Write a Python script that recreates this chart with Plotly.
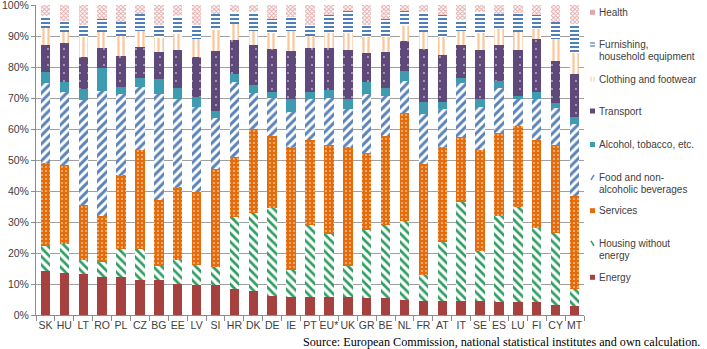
import plotly.graph_objects as go

countries = ["SK","HU","LT","RO","PL","CZ","BG","EE","LV","SI","HR","DK","DE","IE","PT",
             "EU*","UK","GR","BE","NL","FR","AT","IT","SE","ES","LU","FI","CY","MT"]

energy      = [14.3,13.6,13.3,12.3,12.1,11.4,11.2, 9.9, 9.8, 9.8, 8.5, 7.6, 6.2, 5.7, 5.7, 5.7, 5.7, 5.4, 5.4, 4.9, 4.6, 4.4, 4.6, 4.4, 4.1, 4.1, 4.1, 3.3, 2.8]
housing     = [ 8.0, 9.3, 4.5, 4.7, 9.1,10.0, 4.7, 8.0, 6.2, 5.7,23.0,25.2,28.2, 8.7,23.3,20.5,10.0,21.9,23.7,25.5, 8.4,19.1,32.0,16.4,27.9,30.9,23.9,23.1, 5.6]
services    = [26.8,25.6,17.8,15.0,24.0,31.8,21.1,23.5,23.6,31.7,19.4,27.3,23.5,39.8,27.3,28.8,38.4,25.1,28.8,34.9,35.6,30.7,20.7,32.5,26.6,26.0,28.6,28.3,30.1]
food        = [25.8,23.4,33.6,40.2,26.0,20.3,34.2,28.4,27.5,16.5,24.3,11.6,12.2,11.4,13.5,14.9,12.5,18.8,12.7,10.2,16.1,12.1,17.4,13.9,14.7, 8.6,13.2,12.2,23.0]
alcohol     = [ 3.4, 3.2, 3.8, 7.5, 2.4, 2.8, 4.8, 3.3, 3.2, 2.1, 2.7, 2.4, 1.8, 4.0, 2.1, 2.6, 3.0, 3.9, 2.7, 3.2, 4.0, 2.4, 1.8, 2.6, 2.2, 1.2, 2.1, 1.4, 2.5]
transport   = [ 8.7,12.6,10.1, 6.3,10.1,10.3, 8.8,12.5,13.0,19.3,10.7,13.1,14.0,15.5,14.1,13.5,16.0, 9.5,11.5, 9.6,17.2,15.1,10.5,15.8,11.5,14.8,17.0,13.6,13.6]
clothing    = [ 5.5, 3.7, 6.7, 5.3, 6.3, 4.9, 4.5, 5.2, 5.6, 6.9, 5.2, 4.5, 5.1, 6.5, 4.0, 5.0, 5.4, 5.1, 5.0, 4.8, 5.3, 5.9, 4.5, 5.4, 5.3, 5.6, 3.2, 7.0, 6.8]
furnishing  = [ 4.0, 3.6, 3.7, 4.1, 4.6, 5.7, 4.3, 5.7, 4.7, 5.2, 3.8, 5.9, 4.5, 4.5, 3.7, 5.7, 7.1, 4.0, 5.6, 4.9, 6.4, 7.2, 3.8, 6.7, 4.9, 6.3, 4.7, 5.5, 9.4]
health      = [ 3.5, 5.0, 6.5, 4.6, 5.4, 2.8, 6.4, 3.5, 6.4, 2.8, 2.4, 2.4, 4.5, 3.9, 6.3, 3.3, 1.9, 6.3, 4.6, 2.0, 2.4, 3.1, 4.7, 2.3, 2.8, 2.5, 3.2, 5.6, 6.2]

y_ticks = [0,10,20,30,40,50,60,70,80,90,100]
y_tick_labels = [f"{v}%" for v in y_ticks]

legend_names = ["Health", "Furnishing,|household equipment", "Clothing and footwear", "Transport",
                "Alcohol, tobacco, etc.", "Food and non-|alcoholic beverages", "Services",
                "Housing without|energy", "Energy"]

series = [
    ("Energy", energy, dict(color="#a5413e")),
    ("Housing without energy", housing, dict(color="#2f9e62", pattern=dict(shape="\\", fgcolor="#2f9e62", bgcolor="white", size=6, solidity=0.45, fillmode="replace"))),
    ("Services", services, dict(color="#e46c0a", pattern=dict(shape=".", fgcolor="white", bgcolor="#e46c0a", size=4, solidity=0.12, fillmode="replace"))),
    ("Food and non-alcoholic beverages", food, dict(color="#4f81bd", pattern=dict(shape="/", fgcolor="#5a83b8", bgcolor="white", size=6, solidity=0.5, fillmode="replace"))),
    ("Alcohol, tobacco, etc.", alcohol, dict(color="#3f9bb0")),
    ("Transport", transport, dict(color="#5f497a", pattern=dict(shape=".", fgcolor="white", bgcolor="#5f497a", size=8, solidity=0.03, fillmode="replace"))),
    ("Clothing and footwear", clothing, dict(color="#f9c89c", pattern=dict(shape="|", fgcolor="#f9c89c", bgcolor="white", size=5, solidity=0.45, fillmode="replace"))),
    ("Furnishing, household equipment", furnishing, dict(color="#4f81bd", pattern=dict(shape="-", fgcolor="#4f7fb8", bgcolor="white", size=4, solidity=0.5, fillmode="replace"))),
    ("Health", health, dict(color="#e0a8a8", pattern=dict(shape="x", fgcolor="#e3a7a7", bgcolor="white", size=3, solidity=0.5, fillmode="replace"))),
]

fig = go.Figure()
for name, vals, marker in series:
    m = dict(marker)
    m["line"] = dict(width=0)
    fig.add_trace(go.Bar(x=countries, y=vals, name=name, marker=m, showlegend=False))

W, H = 707, 349
L, R, T, B = 36, 123, 5, 34
pw = W - L - R
ph = H - T - B

def px2x(px):
    return (px - L) / pw

def px2y(py):
    return (H - B - py) / ph

font_family = "Liberation Sans, Arial, sans-serif"
annotations = []
shapes = []

legend_items = [
    (legend_names[0], 12.3, "check", "#e3a7a7"),
    (legend_names[1], 44.5, "hlines", "#4f7fb8"),
    (legend_names[2], 79.0, "vlines", "#f9c89c"),
    (legend_names[3], 111.0, "rect", "#5f497a"),
    (legend_names[4], 144.5, "rect", "#3f9bb0"),
    (legend_names[5], 177.3, "slash", "#5a83b8"),
    (legend_names[6], 210.7, "rect", "#e46c0a"),
    (legend_names[7], 243.3, "bslash", "#2f9e62"),
    (legend_names[8], 277.3, "rect", "#a5413e"),
]
text_x = 597
for label, y0, kind, col in legend_items:
    lines = label.split("|")
    for i, ln in enumerate(lines):
        annotations.append(dict(x=px2x(text_x), y=px2y(y0 + i * 12.3), xref="paper", yref="paper",
                                text=ln, showarrow=False, xanchor="left", yanchor="middle",
                                font=dict(family=font_family, size=10, color="#404040")))
    mx0, mx1 = 590, 595
    my0, my1 = y0 - 2.5, y0 + 2.5
    if kind == "rect" or kind == "check":
        shapes.append(dict(type="rect", xref="paper", yref="paper",
                           x0=px2x(mx0), x1=px2x(mx1), y0=px2y(my1), y1=px2y(my0),
                           fillcolor=col, line=dict(width=0)))
    elif kind == "hlines":
        for yy in (y0 - 1.5, y0 + 1.5):
            shapes.append(dict(type="line", xref="paper", yref="paper",
                               x0=px2x(mx0), x1=px2x(mx1), y0=px2y(yy), y1=px2y(yy),
                               line=dict(color=col, width=1.2)))
    elif kind == "vlines":
        for xx in (mx0 + 1, mx0 + 4):
            shapes.append(dict(type="line", xref="paper", yref="paper",
                               x0=px2x(xx), x1=px2x(xx), y0=px2y(my0), y1=px2y(my1),
                               line=dict(color=col, width=1)))
    elif kind == "slash":
        shapes.append(dict(type="line", xref="paper", yref="paper",
                           x0=px2x(mx0 + 1), x1=px2x(mx1 - 1), y0=px2y(my1), y1=px2y(my0),
                           line=dict(color=col, width=1.4)))
    elif kind == "bslash":
        shapes.append(dict(type="line", xref="paper", yref="paper",
                           x0=px2x(mx0 + 1), x1=px2x(mx1 - 1), y0=px2y(my0), y1=px2y(my1),
                           line=dict(color=col, width=1.6)))

annotations.append(dict(x=px2x(702), y=px2y(341.5), xref="paper", yref="paper",
                        text="Source: European Commission, national statistical institutes and own calculation.",
                        showarrow=False, xanchor="right", yanchor="middle",
                        font=dict(family="Liberation Serif, Times New Roman, serif", size=12.2, color="black")))

fig.update_layout(
    width=W, height=H,
    margin=dict(l=L, r=R, t=T, b=B, pad=0, autoexpand=False),
    barmode="stack",
    bargap=0.5,
    plot_bgcolor="white",
    paper_bgcolor="white",
    font=dict(family=font_family, size=11, color="#404040"),
    annotations=annotations,
    shapes=shapes,
    showlegend=False,
)
fig.update_xaxes(type="category", showline=True, linecolor="#8c8c8c", linewidth=1,
                 ticks="outside", tickson="boundaries", ticklen=5, tickcolor="#8c8c8c",
                 tickangle=0, ticklabeloverflow="allow", automargin=False,
                 tickfont=dict(size=10.5, color="#404040"), showgrid=False)
fig.update_yaxes(range=[0, 100], tickvals=y_ticks, ticktext=y_tick_labels,
                 showline=True, linecolor="#8c8c8c", linewidth=1,
                 ticks="outside", ticklen=4, tickcolor="#8c8c8c", ticklabeloverflow="allow",
                 automargin=False,
                 showgrid=True, gridcolor="#a0a0a0", gridwidth=1, zeroline=False,
                 tickfont=dict(size=10.5, color="#404040"))

fig.write_html("out.html")
